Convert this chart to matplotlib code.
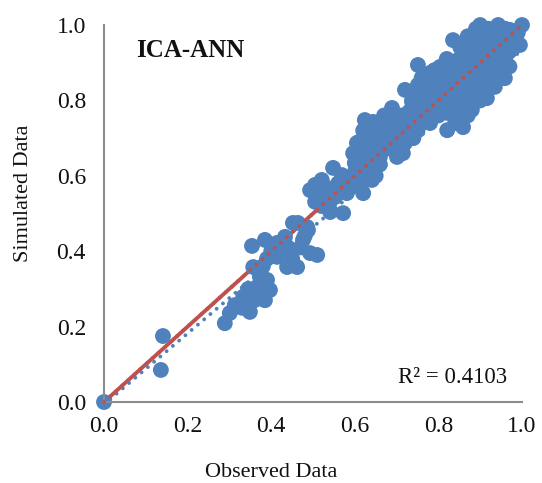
import numpy as np
import matplotlib
matplotlib.use('Agg')
import matplotlib.pyplot as plt
from matplotlib.ticker import FormatStrFormatter

# observed / simulated values, grouped by region
low_obs = [0.0, 0.136, 0.141, 0.289, 0.301, 0.313, 0.330, 0.333, 0.349, 0.354, 0.357, 0.366, 0.373, 0.385,
           0.390, 0.397, 0.360, 0.370, 0.345, 0.385, 0.414, 0.433, 0.414, 0.400, 0.420, 0.438, 0.462, 0.450,
           0.476, 0.493, 0.452, 0.486, 0.470, 0.440, 0.380, 0.390, 0.510, 0.464, 0.488, 0.480]
low_sim = [0.0, 0.085, 0.175, 0.209, 0.236, 0.257, 0.250, 0.279, 0.239, 0.414, 0.358, 0.305, 0.332, 0.270,
           0.324, 0.297, 0.270, 0.290, 0.300, 0.430, 0.422, 0.438, 0.385, 0.400, 0.400, 0.358, 0.358, 0.380,
           0.430, 0.395, 0.475, 0.464, 0.410, 0.410, 0.360, 0.380, 0.390, 0.475, 0.456, 0.440]

mid_obs = [0.505, 0.493, 0.521, 0.505, 0.524, 0.548, 0.569, 0.572, 0.541, 0.553, 0.581, 0.530, 0.560, 0.510,
           0.540, 0.575, 0.590, 0.520]
mid_sim = [0.576, 0.562, 0.589, 0.531, 0.554, 0.621, 0.602, 0.501, 0.504, 0.544, 0.554, 0.570, 0.580, 0.550,
           0.530, 0.580, 0.570, 0.520]

upmid_obs = [0.600, 0.617, 0.641, 0.648, 0.605, 0.629, 0.596, 0.691, 0.701, 0.620, 0.610, 0.620, 0.630, 0.610,
             0.640, 0.650, 0.660, 0.670, 0.630, 0.620, 0.624, 0.644, 0.677, 0.715, 0.720, 0.715, 0.660, 0.680,
             0.700, 0.690, 0.710, 0.689, 0.670, 0.640, 0.600, 0.650, 0.660, 0.690, 0.720,
             0.630, 0.650, 0.670, 0.680, 0.700, 0.660, 0.640, 0.620, 0.610, 0.700, 0.720, 0.690]
upmid_sim = [0.634, 0.581, 0.589, 0.623, 0.687, 0.703, 0.660, 0.695, 0.650, 0.554, 0.600, 0.620, 0.640, 0.650,
             0.660, 0.680, 0.650, 0.670, 0.670, 0.720, 0.748, 0.743, 0.729, 0.729, 0.687, 0.660, 0.710, 0.700,
             0.710, 0.740, 0.760, 0.780, 0.760, 0.700, 0.610, 0.600, 0.630, 0.670, 0.700,
             0.690, 0.720, 0.700, 0.730, 0.740, 0.670, 0.620, 0.660, 0.690, 0.680, 0.720, 0.710]

top_obs = [0.720, 0.751, 0.751, 0.737, 0.780, 0.804, 0.821, 0.859, 0.821, 0.876, 0.740, 0.750, 0.760, 0.770,
           0.760, 0.780, 0.790, 0.770, 0.730, 0.740, 0.780, 0.800, 0.800, 0.810, 0.800, 0.820, 0.830, 0.820,
           0.840, 0.830, 0.850, 0.840, 0.860, 0.860, 0.850, 0.840, 0.835, 0.852, 0.868, 0.883, 0.900, 0.943,
           1.000, 0.971, 0.995, 0.959, 0.959, 0.935, 0.916, 0.880, 0.870, 0.880, 0.890, 0.900, 0.910, 0.920,
           0.930, 0.950, 0.960, 0.970, 0.980, 0.940, 0.930, 0.920, 0.910, 0.900, 0.890, 0.880, 0.870, 0.900,
           0.920, 0.950, 0.940, 0.960, 0.910, 0.890, 0.870, 0.860, 0.880, 0.900, 0.870, 0.890, 0.920, 0.850,
           0.830, 0.810, 0.790, 0.770, 0.790, 0.820, 0.860, 0.930, 0.950, 0.900, 0.920, 0.970, 0.990, 0.940,
           0.960, 0.850, 0.820, 0.800, 0.780, 0.760, 0.750, 0.730, 0.720, 0.780, 0.811, 0.737,
           0.840, 0.860, 0.880, 0.880, 0.900, 0.920, 0.940, 0.960, 0.980, 0.970, 0.910, 0.930, 0.890, 0.870,
           0.850, 0.830, 0.810, 0.790, 0.770, 0.750, 0.760, 0.780, 0.820, 0.810, 0.860, 0.870, 0.840, 0.900,
           0.930, 0.950]
top_sim = [0.828, 0.894, 0.841, 0.796, 0.867, 0.889, 0.767, 0.729, 0.721, 0.775, 0.760, 0.720, 0.740, 0.780,
           0.800, 0.820, 0.800, 0.760, 0.730, 0.700, 0.740, 0.760, 0.820, 0.840, 0.860, 0.870, 0.850, 0.800,
           0.820, 0.780, 0.800, 0.760, 0.780, 0.840, 0.880, 0.900, 0.960, 0.942, 0.934, 0.973, 1.000, 1.000,
           1.000, 0.987, 0.947, 0.894, 0.859, 0.836, 0.806, 0.775, 0.860, 0.880, 0.910, 0.930, 0.950, 0.970,
           0.980, 0.970, 0.950, 0.930, 0.960, 0.920, 0.900, 0.880, 0.860, 0.840, 0.820, 0.800, 0.820, 0.880,
           0.910, 0.940, 0.870, 0.910, 0.900, 0.860, 0.900, 0.920, 0.950, 0.960, 0.970, 0.990, 0.990, 0.910,
           0.880, 0.860, 0.840, 0.840, 0.880, 0.910, 0.860, 0.850, 0.880, 0.800, 0.830, 0.890, 0.980, 0.950,
           0.990, 0.840, 0.830, 0.790, 0.790, 0.770, 0.780, 0.770, 0.750, 0.873, 0.889, 0.800,
           0.860, 0.880, 0.900, 0.840, 0.860, 0.860, 0.900, 0.930, 0.940, 0.970, 0.930, 0.950, 0.940, 0.940,
           0.860, 0.820, 0.800, 0.780, 0.800, 0.820, 0.860, 0.850, 0.850, 0.780, 0.800, 0.760, 0.740, 0.820,
           0.870, 0.910]

# linear trendline shown in the chart
trend_slope = 0.94
trend_intercept = -0.006
r2_text = 'R² = 0.4103'
title = 'ICA-ANN'

obs = np.array(low_obs + mid_obs + upmid_obs + top_obs)
sim = np.array(low_sim + mid_sim + upmid_sim + top_sim)

blue = '#4F81BD'
red = '#C0504D'
plt.rcParams['font.family'] = ['Liberation Serif', 'DejaVu Serif']

fig = plt.figure(figsize=(5.42, 4.83), dpi=100)
ax = fig.add_axes([0.1919, 0.1677, 0.7712, 0.7805])

line_x = np.array([0.0, 1.0])
ax.plot(line_x, line_x, '-', color=red, lw=2.8, zorder=1)
ax.scatter(obs, sim, s=130, color=blue, edgecolors='none', zorder=2, clip_on=False)
ax.plot(line_x, trend_slope * line_x + trend_intercept, color=blue, lw=2.8,
        linestyle=(0, (0.01, 2.1)), dash_capstyle='round', zorder=3)
ax.plot(line_x, line_x, color=red, lw=2.8,
        linestyle=(0, (0.01, 2.1)), dash_capstyle='round', zorder=4, clip_on=False)

ax.set_xlim(0, 1)
ax.set_ylim(0, 1)
ax.set_xticks(np.arange(0, 1.01, 0.2))
ax.set_yticks(np.arange(0, 1.01, 0.2))
ax.xaxis.set_major_formatter(FormatStrFormatter('%.1f'))
ax.yaxis.set_major_formatter(FormatStrFormatter('%.1f'))
ax.tick_params(axis='both', length=0, labelsize=17, colors='#111111')
ax.tick_params(axis='x', pad=10)
ax.tick_params(axis='y', pad=13)

for side in ['top', 'right']:
    ax.spines[side].set_visible(False)
for side in ['left', 'bottom']:
    ax.spines[side].set_color('#8c8c8c')
    ax.spines[side].set_linewidth(1.5)

ax.set_xlabel('Observed Data', fontsize=16, color='#111111')
ax.set_ylabel('Simulated Data', fontsize=16, color='#111111')
ax.xaxis.set_label_coords(0.40, -0.162)
ax.yaxis.set_label_coords(-0.17, 0.555)

ax.text(0.077, 0.915, title, fontsize=18, fontweight='bold', color='#111111',
        transform=ax.transAxes, va='baseline', ha='left')
ax.text(0.964, 0.05, r2_text, fontsize=16.5, color='#111111',
        transform=ax.transAxes, va='baseline', ha='right')

fig.savefig('out.png', dpi=100)
